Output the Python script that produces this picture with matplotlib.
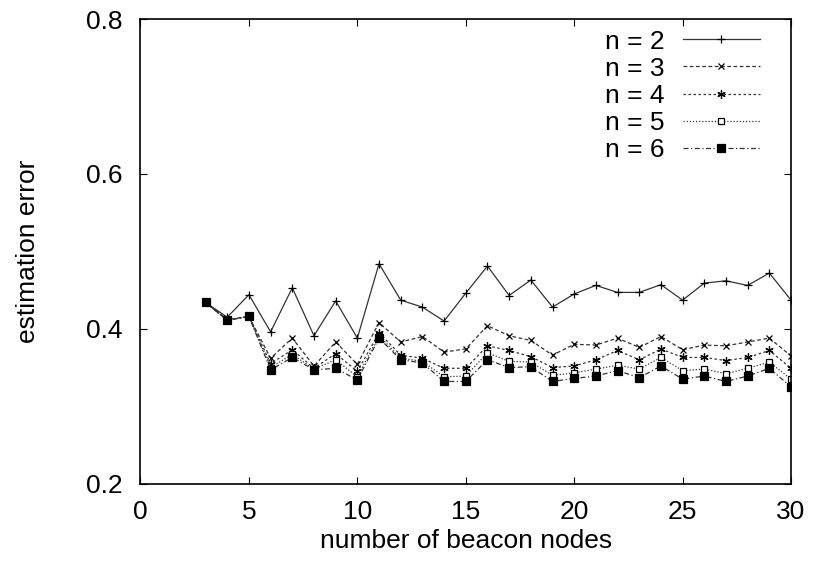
import numpy as np
import matplotlib.pyplot as plt

# beacon counts 3..30
nodes = np.arange(3, 31)

err_n2 = [0.434, 0.415, 0.444, 0.396, 0.453, 0.391, 0.436, 0.388, 0.484, 0.437,
          0.428, 0.410, 0.446, 0.481, 0.443, 0.463, 0.428, 0.445, 0.456, 0.447,
          0.447, 0.457, 0.437, 0.459, 0.462, 0.456, 0.472, 0.437]
err_n3 = [0.434, 0.412, 0.416, 0.362, 0.388, 0.352, 0.383, 0.354, 0.408, 0.383,
          0.390, 0.370, 0.374, 0.404, 0.391, 0.385, 0.366, 0.380, 0.379, 0.388,
          0.376, 0.390, 0.373, 0.379, 0.378, 0.383, 0.388, 0.365]
err_n4 = [0.434, 0.411, 0.416, 0.355, 0.373, 0.349, 0.368, 0.345, 0.395, 0.366,
          0.362, 0.349, 0.349, 0.378, 0.372, 0.364, 0.350, 0.352, 0.360, 0.372,
          0.360, 0.374, 0.363, 0.363, 0.359, 0.363, 0.372, 0.349]
err_n5 = [0.434, 0.411, 0.416, 0.350, 0.367, 0.348, 0.360, 0.338, 0.391, 0.362,
          0.358, 0.338, 0.339, 0.369, 0.358, 0.357, 0.340, 0.343, 0.348, 0.353,
          0.348, 0.363, 0.346, 0.348, 0.342, 0.349, 0.357, 0.335]
err_n6 = [0.434, 0.411, 0.416, 0.347, 0.363, 0.347, 0.349, 0.334, 0.388, 0.360,
          0.356, 0.332, 0.332, 0.360, 0.350, 0.351, 0.332, 0.336, 0.339, 0.346,
          0.337, 0.352, 0.335, 0.339, 0.332, 0.339, 0.349, 0.325]

labels = ['n = 2', 'n = 3', 'n = 4', 'n = 5', 'n = 6']

plt.rcParams['font.family'] = ['Liberation Sans', 'DejaVu Sans']
FS = 19

fig = plt.figure(figsize=(8.14, 5.69), dpi=100)
ax = fig.add_axes([0.1726, 0.1499, 0.7992, 0.8167])

styles = [
    dict(ls='-', marker='+', ms=6, mfc='none'),
    dict(ls=(0, (3, 2)), marker='x', ms=5, mfc='none'),
    dict(ls=(0, (2, 2)), marker=(6, 2, 0), ms=6, mfc='none'),
    dict(ls=(0, (1, 1.5)), marker='s', ms=5, mfc='white'),
    dict(ls=(0, (4, 2, 1, 2)), marker='s', ms=6, mfc='black'),
]
series = [err_n2, err_n3, err_n4, err_n5, err_n6]
for vals, lab, st in zip(series, labels, styles):
    ax.plot(nodes, vals, color='#333333', lw=0.9, mec='black', mew=0.9,
            label=lab, **st)

ax.set_xlim(0, 30)
ax.set_ylim(0.2, 0.8)
ax.set_xticks([0, 5, 10, 15, 20, 25, 30])
ax.set_yticks([0.2, 0.4, 0.6, 0.8])
ax.tick_params(direction='in', top=True, right=True, length=5, width=0.8,
               labelsize=FS)
ax.tick_params(axis='x', pad=12)
ax.tick_params(axis='y', pad=13)
for sp in ax.spines.values():
    sp.set_linewidth(1.2)

ax.set_xlabel('number of beacon nodes', fontsize=FS, labelpad=3)
ax.set_ylabel('estimation error', fontsize=FS)
ax.yaxis.set_label_coords(-0.155, 0.5)

ax.legend(loc='upper right', frameon=False, markerfirst=False, fontsize=FS,
          handlelength=2.92, handletextpad=0.68, labelspacing=0.12,
          borderaxespad=0, bbox_to_anchor=(0.9685, 1.0))

plt.savefig('out.png', dpi=100)
